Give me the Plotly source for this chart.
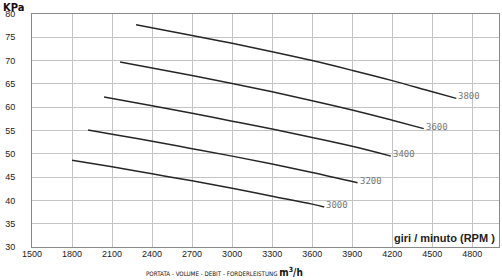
import plotly.graph_objects as go

# Data
rpm_labels = ["3000", "3200", "3400", "3600", "3800"]
flow_3000 = [1800, 2100, 2400, 2700, 3000, 3300, 3600, 3690]
kpa_3000 = [48.6, 47.2, 45.7, 44.2, 42.6, 40.9, 39.2, 38.6]
flow_3200 = [1920, 2100, 2400, 2700, 3000, 3300, 3600, 3940]
kpa_3200 = [55.1, 54.2, 52.7, 51.1, 49.5, 47.8, 46.0, 43.8]
flow_3400 = [2040, 2400, 2700, 3000, 3300, 3600, 3900, 4190]
kpa_3400 = [62.2, 60.3, 58.7, 57.0, 55.3, 53.5, 51.6, 49.5]
flow_3600 = [2160, 2400, 2700, 3000, 3300, 3600, 3900, 4200, 4436]
kpa_3600 = [69.7, 68.4, 66.8, 65.1, 63.3, 61.4, 59.4, 57.2, 55.4]
flow_3800 = [2280, 2700, 3000, 3300, 3600, 3900, 4200, 4500, 4680]
kpa_3800 = [77.7, 75.4, 73.7, 71.9, 70.0, 67.9, 65.7, 63.3, 61.9]

x_ticks = [1500, 1800, 2100, 2400, 2700, 3000, 3300, 3600, 3900, 4200, 4500, 4800]
y_ticks = [30, 35, 40, 45, 50, 55, 60, 65, 70, 75, 80]

series = [
    (flow_3000, kpa_3000),
    (flow_3200, kpa_3200),
    (flow_3400, kpa_3400),
    (flow_3600, kpa_3600),
    (flow_3800, kpa_3800),
]

fig = go.Figure()
for (xs, ys), lab in zip(series, rpm_labels):
    fig.add_trace(go.Scatter(
        x=xs, y=ys, mode="lines", name=lab,
        line=dict(color="#262626", width=1.5, shape="spline", smoothing=1.0),
        showlegend=False, hoverinfo="skip",
    ))
    fig.add_annotation(
        x=xs[-1], y=ys[-1], text=lab, showarrow=False,
        xanchor="left", yanchor="middle", xshift=0, yshift=2,
        font=dict(family="DejaVu Sans Mono", size=9, color="#777777"),
    )

axis_common = dict(
    showgrid=True, gridcolor="#c4c4c4", gridwidth=1,
    showline=True, linecolor="#8a8a8a", linewidth=1, mirror=True,
    zeroline=False, ticks="",
    tickfont=dict(family="Liberation Sans, Arial", size=9, color="#222222"),
)

fig.update_xaxes(range=[1500, 5000], tickvals=x_ticks, ticktext=[str(v) for v in x_ticks],
                 ticklabelstandoff=-2, **axis_common)
fig.update_yaxes(range=[30, 80], tickvals=y_ticks, ticktext=[str(v) for v in y_ticks],
                 ticklabelstandoff=14, **axis_common)

# Axis titles as annotations
fig.add_annotation(
    xref="paper", yref="paper", x=-0.066, y=1.0, yshift=15,
    text="<b>KPa</b>", showarrow=False, xanchor="left", yanchor="top",
    font=dict(family="DejaVu Sans Condensed, Liberation Sans Narrow, Liberation Sans", size=11, color="#111111"),
)
fig.add_annotation(
    xref="paper", yref="paper", x=0.24, y=0, yshift=-33,
    text="PORTATA - VOLUME - DEBIT - FORDERLEISTUNG <span style='font-size:10px'><b>m<sup>3</sup>/h</b></span>",
    showarrow=False, xanchor="left", yanchor="bottom",
    font=dict(family="DejaVu Sans Condensed, Liberation Sans Narrow, Liberation Sans", size=6.2, color="#111111"),
)
fig.add_annotation(
    xref="paper", yref="paper", x=0.995, y=0.005,
    text="<b>giri / minuto (RPM )</b>", showarrow=False, xanchor="right", yanchor="bottom",
    font=dict(family="Liberation Sans, Arial", size=11, color="#222222"),
)

fig.update_layout(
    width=502, height=280,
    margin=dict(l=32, r=3, t=14, b=33),
    paper_bgcolor="white", plot_bgcolor="white",
)

fig.write_html("out.html")
